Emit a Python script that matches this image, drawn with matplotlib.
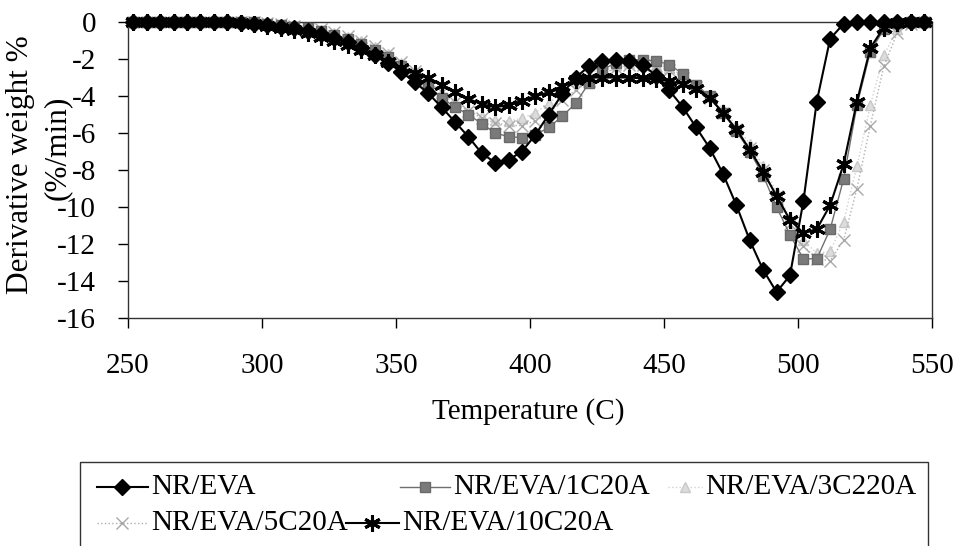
import numpy as np
import matplotlib
matplotlib.use("Agg")
import matplotlib.pyplot as plt
from matplotlib.lines import Line2D
from matplotlib.patches import Rectangle

plt.rcParams['font.family'] = ['Liberation Serif', 'DejaVu Serif']
plt.rcParams['axes.unicode_minus'] = False

# sample temperatures (C), shared by all series
temps = [252, 257, 262, 267, 272, 277, 282, 287, 292, 297,
         302, 307, 312, 317, 322, 327, 332, 337, 342, 347,
         352, 357, 362, 367, 372, 377, 382, 387, 392, 397,
         402, 407, 412, 417, 422, 427, 432, 437, 442, 447,
         452, 457, 462, 467, 472, 477, 482, 487, 492, 497,
         502, 507, 512, 517, 522, 527, 532, 537, 542, 547]

nr_eva = [0, 0, 0, 0, 0, 0, 0, 0, -0.05, -0.1,
          -0.15, -0.25, -0.35, -0.5, -0.65, -0.85, -1.1, -1.4, -1.8, -2.2,
          -2.7, -3.25, -3.85, -4.6, -5.4, -6.2, -7.1, -7.6, -7.45, -7.0,
          -6.1, -5.0, -3.9, -3.0, -2.4, -2.1, -2.05, -2.1, -2.3, -2.9,
          -3.7, -4.6, -5.7, -6.8, -8.2, -9.9, -11.8, -13.4, -14.6, -13.7,
          -9.7, -4.3, -0.9, -0.1, 0, 0, 0, 0, 0, 0]

nr_eva_1c = [0, 0, 0, 0, 0, 0, 0, 0, 0, 0,
             -0.1, -0.15, -0.25, -0.35, -0.5, -0.7, -0.9, -1.2, -1.5, -1.9,
             -2.4, -2.9, -3.5, -4.1, -4.6, -5.0, -5.5, -6.0, -6.2, -6.25,
             -6.1, -5.7, -5.1, -4.4, -3.3, -2.6, -2.2, -2.05, -2.05, -2.1,
             -2.3, -2.8, -3.4, -4.0, -4.9, -5.9, -7.0, -8.3, -10.0, -11.5,
             -12.8, -12.8, -11.2, -8.5, -4.5, -1.6, -0.4, -0.05, 0, 0]

nr_eva_3c = [0, 0, 0, 0, 0, 0, 0, 0, 0, 0,
             -0.05, -0.1, -0.2, -0.3, -0.45, -0.6, -0.8, -1.05, -1.35, -1.75,
             -2.2, -2.7, -3.3, -3.9, -4.4, -4.8, -5.1, -5.3, -5.35, -5.2,
             -4.9, -4.4, -3.8, -3.2, -2.8, -2.5, -2.3, -2.2, -2.2, -2.3,
             -2.5, -2.9, -3.4, -4.0, -4.7, -5.6, -6.6, -7.8, -9.2, -10.6,
             -11.8, -12.5, -12.4, -10.8, -7.8, -4.5, -1.8, -0.4, -0.05, 0]

nr_eva_5c = [0, 0, 0, 0, 0, 0, 0, 0, 0, 0,
             -0.05, -0.1, -0.2, -0.3, -0.4, -0.55, -0.75, -1.0, -1.3, -1.7,
             -2.15, -2.65, -3.2, -3.8, -4.3, -4.8, -5.2, -5.45, -5.6, -5.6,
             -5.35, -4.8, -4.2, -3.7, -3.2, -2.8, -2.5, -2.35, -2.3, -2.4,
             -2.6, -3.0, -3.5, -4.1, -4.9, -5.8, -6.8, -8.0, -9.4, -10.9,
             -12.1, -12.8, -12.9, -11.8, -9.0, -5.6, -2.4, -0.6, -0.1, 0]

nr_eva_10c = [0, 0, 0, 0, 0, 0, 0, 0, -0.05, -0.1,
              -0.2, -0.3, -0.45, -0.6, -0.8, -1.0, -1.25, -1.5, -1.8, -2.15,
              -2.5, -2.75, -3.0, -3.4, -3.8, -4.15, -4.45, -4.6, -4.5, -4.25,
              -4.0, -3.8, -3.45, -3.15, -3.0, -3.0, -3.0, -3.0, -3.05, -3.1,
              -3.2, -3.35, -3.6, -4.1, -4.9, -5.8, -6.9, -8.1, -9.4, -10.7,
              -11.4, -11.2, -9.9, -7.7, -4.3, -1.4, -0.3, -0.05, 0, 0]

labels = ["NR/EVA", "NR/EVA/1C20A", "NR/EVA/3C220A", "NR/EVA/5C20A", "NR/EVA/10C20A"]
x_ticks = [250, 300, 350, 400, 450, 500, 550]
y_ticks = [0, -2, -4, -6, -8, -10, -12, -14, -16]

styles = [
    dict(color="black", lw=1.5, ls="-", marker="D", ms=8, mfc="black", mec="black", zorder=5),
    dict(color="#707070", lw=1.0, ls="-", marker="s", ms=7, mfc="#7a7a7a", mec="#6a6a6a", zorder=3),
    dict(color="#d0d0d0", lw=1.0, ls=":", marker="^", ms=7, mfc="#dcdcdc", mec="#c8c8c8", zorder=2),
    dict(color="#b0b0b0", lw=1.0, ls=":", marker="x", ms=8, mfc="none", mec="#a8a8a8", mew=1.0, zorder=2.5),
    dict(color="black", lw=1.5, ls="-", marker=(6, 2, 0), ms=12, mfc="black", mec="black", mew=2.2, zorder=4),
]
series = [nr_eva, nr_eva_1c, nr_eva_3c, nr_eva_5c, nr_eva_10c]

fig = plt.figure(figsize=(9.56, 5.46), dpi=100)
ax = fig.add_axes([128 / 956, 1 - 318 / 546, (932 - 128) / 956, (318 - 22) / 546])

for vals, lab, st in zip(series, labels, styles):
    ax.plot(temps, vals, label=lab, clip_on=False, **st)

ax.set_xlim(250, 550)
ax.set_ylim(-16, 0)
ax.set_xticks(x_ticks)
ax.set_yticks(y_ticks)
ax.set_xticklabels([str(t) for t in x_ticks])
ax.set_yticklabels([str(t) for t in y_ticks])
ax.tick_params(axis="both", direction="out", length=7, width=1, labelsize=21, colors="black")
ax.tick_params(axis="y", pad=16)
ax.tick_params(axis="x", pad=18)
for s in ax.spines.values():
    s.set_color("#333333")
    s.set_linewidth(1.0)

fig.text(528 / 956, 1 - 412 / 546, "Temperature (C)", ha="center", va="center", fontsize=21)
fig.text(21 / 956, 1 - 165 / 546, "Derivative weight %", rotation=90, ha="center", va="center", fontsize=22.5)
fig.text(57 / 956, 1 - 148 / 546, "(%/min)", rotation=90, ha="center", va="center", fontsize=22.5)

# legend drawn in pixel space on an overlay axes
lax = fig.add_axes([0, 0, 1, 1], facecolor="none")
lax.set_xlim(0, 956)
lax.set_ylim(546, 0)
lax.axis("off")
lax.add_patch(Rectangle((80, 462), 848, 90, fill=False, ec="#333333", lw=1.0, clip_on=False))
leg_pos = [(97, 148, 487), (400, 450, 487), (668, 702, 487), (97, 148, 523), (346, 399, 523)]
for (x0, x1, y), lab, st in zip(leg_pos, labels, styles):
    lax.add_line(Line2D([x0, (x0 + x1) / 2, x1], [y, y, y], markevery=[1], **st))
    lax.text(x1 + 3, y, lab, ha="left", va="center", fontsize=21)

fig.savefig("out.png", dpi=100)
